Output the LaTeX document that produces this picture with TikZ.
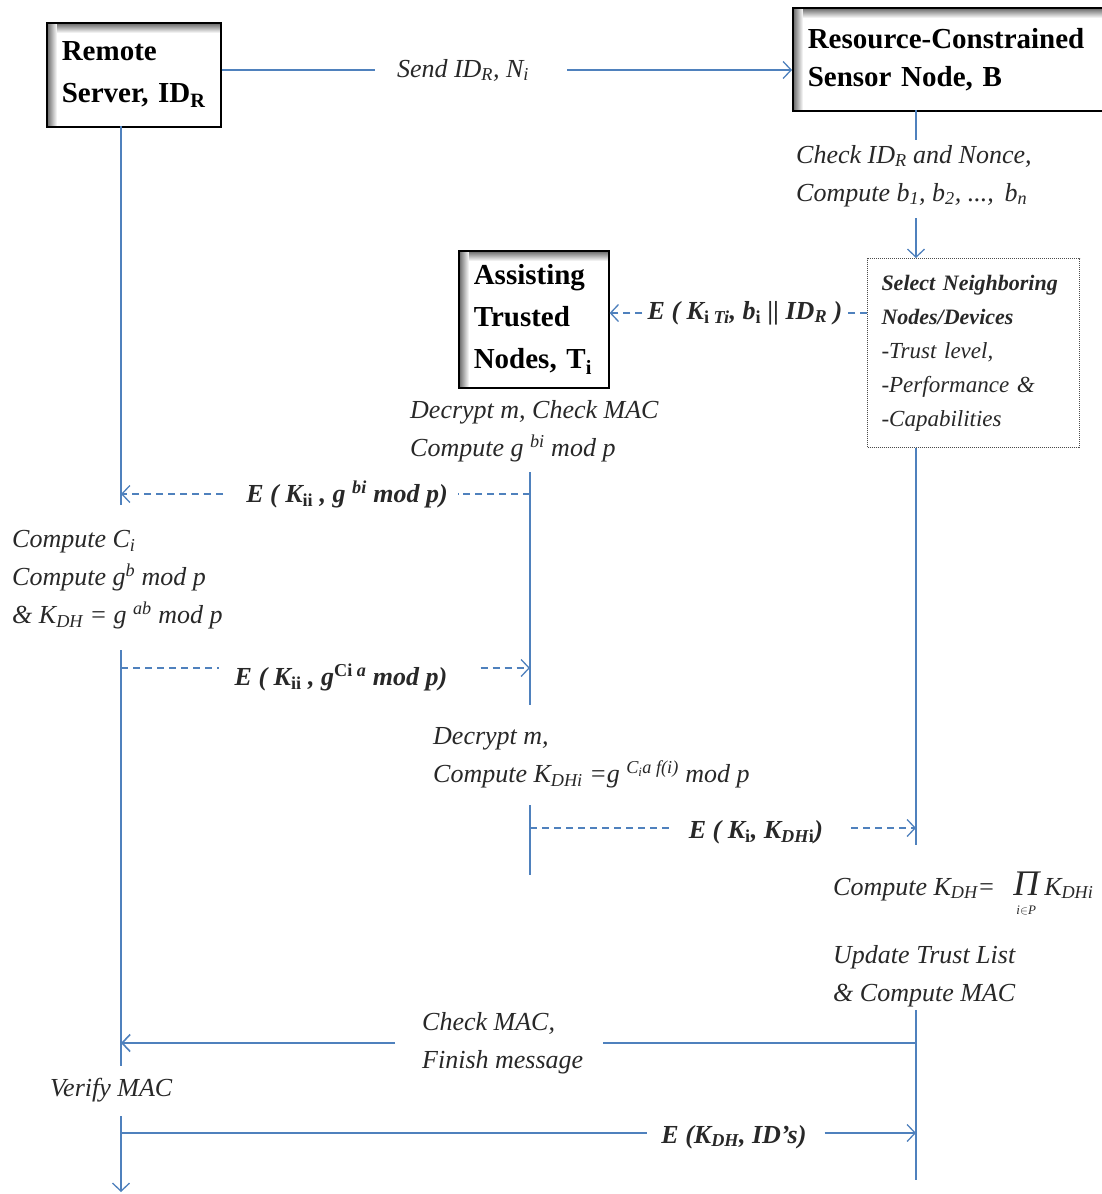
\documentclass[tikz,border=0pt]{standalone}
\usepackage{fontspec}
\setmainfont{Liberation Serif}
\usetikzlibrary{arrows.meta,positioning}
\definecolor{lineblue}{RGB}{79,129,189}
\definecolor{inkgray}{RGB}{40,40,40}
\tikzset{
  actor/.style={draw=black, line width=1.6pt, align=left, anchor=north west,
    inner xsep=15pt, inner ysep=0pt, fill=white,
    font=\fontsize{29}{42}\selectfont\bfseries,
    path picture={
      \foreach \k [evaluate=\k as \c using int(66-6*\k)] in {0,...,10}{
        \draw[black!\c, line width=1.1pt]
          ([xshift=\k pt]path picture bounding box.north west) -- ([xshift=\k pt]path picture bounding box.south west);
        \draw[black!\c, line width=1.1pt]
          ([yshift=-\k pt, xshift=\k pt]path picture bounding box.north west) -- ([yshift=-\k pt]path picture bounding box.north east);
      }
    }},
  selbox/.style={draw=black!70, densely dotted, line width=1pt, align=left, anchor=north west,
    inner xsep=14pt, inner ysep=0pt, text=inkgray,
    font=\fontsize{23}{34}\selectfont\itshape},
  note/.style={font=\fontsize{26}{38}\selectfont\itshape, align=left, anchor=west,
    inner sep=0pt, text=inkgray},
  lbl/.style={font=\fontsize{26}{38}\selectfont\bfseries\itshape, inner sep=0pt, text=inkgray},
  life/.style={draw=lineblue, line width=1.3pt},
  msg/.style={life, -{Straight Barb[length=8pt,width=17pt]}},
  dline/.style={life, dash pattern=on 7pt off 5pt},
  dmsg/.style={msg, dash pattern=on 7pt off 5pt}
}
\begin{document}
\begin{tikzpicture}[x=1pt,y=-1pt]
  \useasboundingbox (0,0) rectangle (1102,1194);
  \clip (0,0) rectangle (1102,1194);
  \fill[white] (0,0) rectangle (1102,1194);

  % Participants
  \node[actor, minimum width=174pt, minimum height=104pt, text width=144pt] (srv) at (46,22)
    {Remote\\Server, ID\textsubscript{R}};
  \node[actor, minimum width=330pt, minimum height=103pt, text width=300pt,
    font=\fontsize{29}{38}\selectfont\bfseries] (sns) at (792,7)
    {Resource-Constrained\\Sensor Node, B};
  \node[actor, minimum width=148pt, minimum height=137pt, text width=120pt] (asst) at (458,250)
    {Assisting\\Trusted\\Nodes, T\textsubscript{i}};
  \node[selbox, minimum width=212pt, minimum height=189pt, text width=184pt] (sel) at (867,258)
    {{\fontsize{22}{34}\selectfont\bfseries Select Neighboring}\\
     {\fontsize{22}{34}\selectfont\bfseries Nodes/Devices}\\-Trust level,\\-Performance \&\\-Capabilities};

  % Lifeline points
  \coordinate (sv0) at (121,126);
  \coordinate (sv1) at (121,505);
  \coordinate (sv2) at (121,650);
  \coordinate (sv3) at (121,1066);
  \coordinate (sv4) at (121,1116);
  \coordinate (sv5) at (121,1192);
  \coordinate (tr0) at (530,472);
  \coordinate (tr1) at (530,705);
  \coordinate (tr2) at (530,805);
  \coordinate (tr3) at (530,875);
  \coordinate (sn0) at (916,110);
  \coordinate (sn1) at (916,140);
  \coordinate (sn2) at (916,218);
  \coordinate (sn3) at (916,845);
  \coordinate (sn4) at (916,1010);
  \coordinate (sn5) at (916,1180);

  % Notes
  \node[note] (chk) at (796,176) {Check ID\textsubscript{R} and Nonce,\\Compute b\textsubscript{1}, b\textsubscript{2}, ...,\, b\textsubscript{n}};
  \node[note] (dec1) at (410,431) {Decrypt m, Check MAC\\Compute g \textsuperscript{bi} mod p};
  \node[note] (cmpc) at (12,580) {Compute C\textsubscript{i}\\Compute g\textsuperscript{b} mod p\\\& K\textsubscript{DH} = g \textsuperscript{ab} mod p};
  \node[note] (dec2) at (433,758) {Decrypt m,\\Compute K\textsubscript{DHi} =g \textsuperscript{C\textsubscript{i}a f(i)} mod p};
  \node[note] (cmpk) at (833,893) {Compute K\textsubscript{DH}=\hspace{18pt}\vtop{\baselineskip=19pt\halign{\hfil#\hfil\cr
      {\fontsize{36}{36}\selectfont Π}\cr{\fontsize{13}{13}\selectfont i\(\in\)P}\cr}}\hspace{5pt}K\textsubscript{DHi}};
  \node[note] (upd) at (833,976) {Update Trust List\\\& Compute MAC};
  \node[note] (vrf) at (50,1090) {Verify MAC};

  % Message labels
  \node[note, anchor=center] (send) at (463,70) {Send ID\textsubscript{R}, N\textsubscript{i}};
  \node[lbl] (kti) at (745,313) {E ( K\textsubscript{\textup{i} Ti}, b\textsubscript{\textup{i}} || ID\textsubscript{R} )};
  \node[lbl] (gbi) at (347,494) {E ( K\textsubscript{\textup{ii}} , g \textsuperscript{bi} mod p)};
  \node[lbl] (gci) at (341,677) {E ( K\textsubscript{\textup{ii}} , g\textsuperscript{\textup{Ci} a} mod p)};
  \node[lbl] (kdhi) at (756,832) {E ( K\textsubscript{\textup{i}}, K\textsubscript{DH\textup{i}})};
  \node[note] (fin) at (422,1043) {Check MAC,\\Finish message};
  \node[lbl] (kdh) at (734,1137) {E (K\textsubscript{DH}, ID’s)};

  % Lifelines
  \draw[life] (sv0) -- (sv1);
  \draw[life] (sv2) -- (sv3);
  \draw[msg] (sv4) -- (sv5);
  \draw[life] (tr0) -- (tr1);
  \draw[life] (tr2) -- (tr3);
  \draw[life] (sn0) -- (sn1);
  \draw[msg] (sn2) -- (sn2 |- sel.north);
  \draw[life] (sn2 |- sel.south) -- (sn3);
  \draw[life] (sn4) -- (sn5);

  % Messages
  \draw[life] (srv.east |- send) -- ([xshift=-22pt]send.west);
  \draw[msg] ([xshift=38pt]send.east) -- (sns.west |- send);
  \draw[dline] (sel.west |- kti) -- ([xshift=5pt]kti.east);
  \draw[dmsg] ([xshift=-5pt]kti.west) -- (asst.east |- kti);
  \draw[dline] (tr0 |- gbi) -- ([xshift=10pt]gbi.east);
  \draw[dmsg] ([xshift=-23pt]gbi.west) -- (sv0 |- gbi);
  \draw[dline] (sv2 |- 0,668) -- ([xshift=-15pt]gci.west |- 0,668);
  \draw[dmsg] ([xshift=33pt]gci.east |- 0,668) -- (tr0 |- 0,668);
  \draw[dline] (tr2 |- 0,828) -- ([xshift=-16pt]kdhi.west |- 0,828);
  \draw[dmsg] ([xshift=28pt]kdhi.east |- 0,828) -- (sn3 |- 0,828);
  \draw[life, line width=1.6pt] (sn4 |- fin) -- ([xshift=20pt]fin.east);
  \draw[msg, line width=1.6pt] ([xshift=-27pt]fin.west) -- (sv3 |- fin);
  \draw[life] (sv4 |- 0,1133) -- ([xshift=-14pt]kdh.west |- 0,1133);
  \draw[msg] ([xshift=18pt]kdh.east |- 0,1133) -- (sn5 |- 0,1133);
\end{tikzpicture}
\end{document}
